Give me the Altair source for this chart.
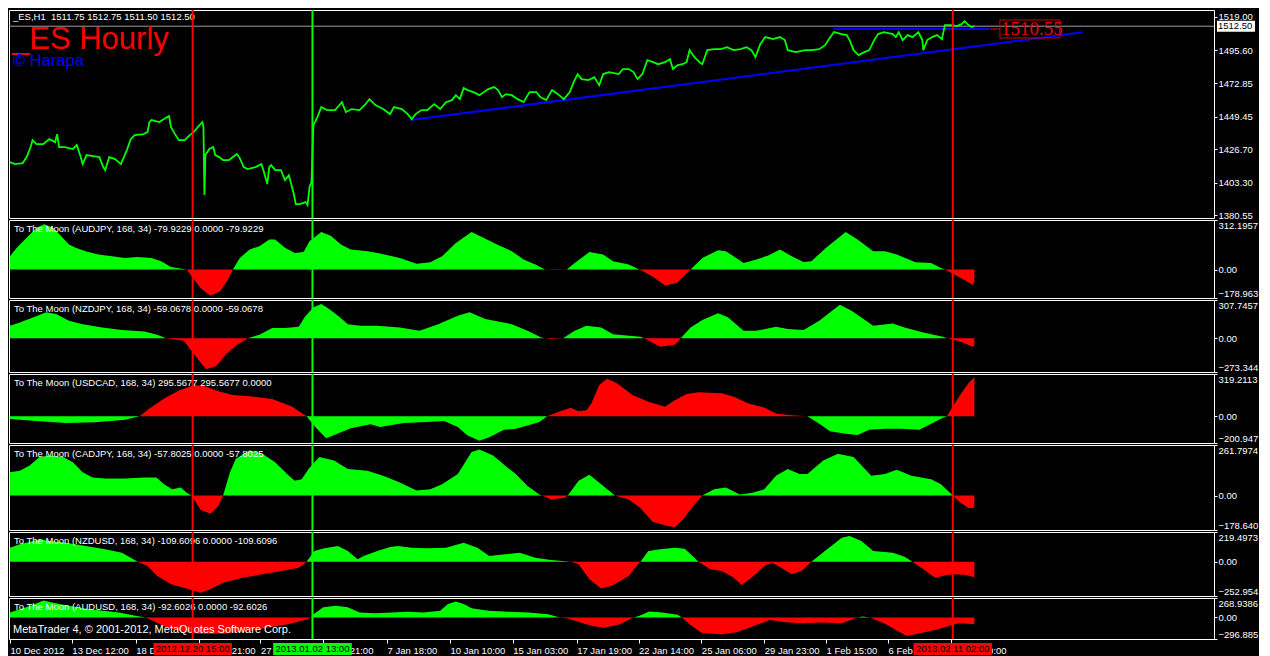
import json
import altair as alt
import pandas as pd

# ---------------- data ----------------
# _ES H1 close prices (bar index along the chart, price)
price_bars = [3,8,16,20,24,26,30,37,43,49,51,53,59,67,71,75,77,81,88,94,98,100,104,110,116,122,126,130,139,143,
              145,147,155,163,165,167,171,175,181,186,190,196,199,200,201,202,206,210,212,216,220,226,230,234,237,241,245,253,259,261,
              265,267,269,273,279,283,287,292,294,298,304,306,308,310,312,316,320,326,334,341,345,351,359,365,369,375,383,390,394,402,
              408,412,416,422,428,435,441,447,453,457,461,465,469,475,481,490,496,500,504,508,514,520,526,532,539,543,549,555,561,567,
              573,577,581,585,592,598,603,607,613,623,627,633,638,642,647,652,658,663,670,675,678,683,688,692,695,700,705,708,713,720,
              727,733,740,747,753,758,762,767,772,780,787,792,795,803,813,820,827,833,837,842,850,855,858,862,867,873,878,883,887,893,
              902,905,908,912,917,922,928,932,933,937,942,947,952,953,955,962,967,972,975,978,982,985]
price_close = [1417.7,1416.3,1417.0,1421.2,1428.2,1433.0,1430.3,1430.3,1433.7,1431.6,1437.2,1428.2,1428.2,1426.8,1429.6,1421.2,1416.3,1422.6,1421.9,1421.2,
               1414.2,1412.1,1421.2,1419.8,1416.3,1426.1,1433.7,1436.5,1437.2,1438.6,1445.6,1447.0,1445.6,1449.1,1449.8,1442.1,1437.2,1433.0,1433.0,1436.5,
               1438.6,1443.5,1445.6,1442.1,1394.7,1422.6,1426.8,1428.2,1422.6,1421.2,1419.1,1419.1,1421.2,1423.3,1420.5,1414.2,1412.8,1414.2,1416.3,1412.1,
               1402.4,1414.2,1415.6,1412.1,1412.1,1405.1,1408.6,1395.4,1388.4,1388.4,1389.8,1387.7,1400.3,1403.8,1443.5,1449.1,1456.1,1454.0,1454.0,1459.5,
               1452.6,1454.7,1454.0,1458.1,1461.6,1457.5,1454.7,1451.2,1456.1,1454.7,1451.2,1447.7,1451.2,1454.0,1454.0,1458.1,1454.7,1459.5,1460.9,1464.4,
               1461.6,1469.3,1467.9,1466.5,1464.4,1468.6,1470.0,1467.9,1463.0,1465.1,1464.4,1461.6,1459.5,1466.5,1466.5,1463.0,1460.9,1467.9,1465.1,1461.6,
               1466.5,1473.5,1479.1,1475.6,1474.9,1477.0,1471.4,1479.1,1480.5,1479.1,1482.6,1482.6,1480.5,1475.6,1479.1,1488.8,1487.4,1486.0,1487.4,1489.5,
               1482.6,1485.4,1486.0,1487.4,1495.8,1490.9,1487.4,1486.0,1495.8,1496.5,1496.5,1497.9,1495.8,1496.5,1497.9,1495.8,1490.9,1500.0,1504.9,1503.5,
               1504.9,1502.8,1495.8,1494.4,1495.8,1495.8,1496.5,1499.3,1503.5,1508.4,1507.0,1506.3,1502.8,1495.8,1492.3,1494.4,1495.8,1502.8,1507.0,1508.4,
               1507.0,1504.9,1508.4,1502.8,1506.3,1504.9,1508.4,1502.8,1495.8,1502.8,1504.9,1506.3,1503.5,1507.0,1513.2,1513.2,1512.5,1513.9,1516.0,1513.9,
               1511.9,1512.5]
price_ticks = [1380.55, 1403.30, 1426.70, 1449.45, 1472.85, 1495.60, 1519.00]
price_domain = [1378.7, 1523.8]
bid_price = 1512.50
header_text = "_ES,H1\u00a0 1511.75 1512.75 1511.50 1512.50"
title_text = "_ES Hourly"
author_text = "\u00a9 Harapa"

trend_bars = [411, 1095]
trend_prices = [1447.0, 1508.2]
level_bars = [842, 1000]
level_price = 1510.55
dash_bars = [1001, 1011]
level_label_bars = [1011, 1072]
level_label = "1510.55"

vline_bars = [189, 311, 963]
vline_colors = ["#ff0000", "#00ff00", "#ff0000"]
vline_labels = ["2012.12.20 15:00", "2013.01.02 13:00", "2013.02.11 02:00"]

tick_bars = [3, 66, 131, 195, 258, 322, 387, 451, 515, 580, 643, 707, 771, 834, 897, 961]
tick_labels = ["10 Dec 2012", "13 Dec 12:00", "18 Dec 05:00", "20 Dec 21:00", "27 Dec 06:00", "2 Jan 21:00",
               "7 Jan 18:00", "10 Jan 10:00", "15 Jan 03:00", "17 Jan 19:00", "22 Jan 14:00", "25 Jan 06:00",
               "29 Jan 23:00", "1 Feb 15:00", "6 Feb 07:00", "11 Feb 00:00"]

# indicator "To The Moon" panels
p1_bars = [3,10,20,30,38,47,55,63,70,80,93,107,120,133,147,157,167,180,183,187,197,207,217,225,230,237,247,257,267,273,
           283,293,302,308,320,330,340,350,367,380,400,417,431,443,457,473,485,499,514,526,538,548,560,570,578,593,607,617,633,644,
           657,670,682,696,708,724,732,750,763,775,787,799,811,819,834,854,866,882,894,906,925,941,951,955,965,977,983,985]
p1_vals = [84,137,200,263,285,263,211,158,137,116,95,84,73,80,73,53,16,4,0,-32,-116,-165,-137,-63,0,73,127,147,190,190,
           137,105,110,179,236,211,158,127,116,101,73,36,46,84,168,236,200,158,116,63,32,0,-3,0,42,110,95,53,32,0,
           -42,-101,-85,0,73,122,116,42,63,89,127,84,48,53,137,236,190,116,116,95,46,42,10,0,-32,-74,-95,-80]
p2_bars = [3,13,27,40,50,63,77,97,117,140,153,162,180,188,197,203,213,223,233,245,257,270,283,297,303,312,320,328,337,347,
           360,377,400,420,439,459,471,487,514,530,544,548,554,566,578,590,605,617,645,649,665,680,686,696,708,724,734,750,763,783,
           795,811,827,848,860,882,902,914,933,953,957,961,973,983,985]
p2_vals = [100,127,168,208,194,140,113,86,65,54,27,0,-22,-103,-197,-251,-224,-130,-62,0,27,81,81,92,168,249,275,235,181,113,
           100,100,86,59,113,181,208,154,113,59,6,0,-8,0,59,100,86,32,11,0,-70,-54,0,86,146,200,168,59,59,92,
           73,65,140,270,221,100,119,86,46,11,0,-8,-35,-70,-59]
p3_bars = [3,30,60,90,120,135,145,160,175,190,200,215,230,250,270,290,305,315,325,335,350,370,380,404,427,445,459,469,481,491,
           506,518,530,542,550,562,574,582,590,595,603,611,621,637,653,670,680,692,704,728,740,755,771,783,799,815,827,838,854,866,
           878,894,910,929,941,953,957,965,973,979,984,985]
p3_vals = [-20,-35,-50,-45,-25,0,60,135,195,235,230,190,160,150,130,75,0,-90,-165,-135,-90,-60,-81,-50,-43,-35,-81,-145,-184,-158,
           -102,-94,-69,-43,0,34,64,38,46,97,237,283,250,161,110,72,122,168,181,174,148,97,67,21,8,0,-56,-112,-132,-140,
           -102,-94,-94,-102,-56,-10,0,97,187,250,288,296]
p4_bars = [3,13,23,33,43,57,67,77,87,100,120,140,152,160,168,177,183,188,197,207,215,220,227,233,247,260,273,287,293,300,
           307,318,333,347,367,383,400,417,431,443,459,473,481,495,507,518,530,542,545,554,568,571,582,593,605,619,633,645,657,672,
           680,688,700,708,720,732,746,759,771,783,795,807,815,831,846,862,880,894,906,921,941,951,963,971,979,984,985]
p4_vals = [120,129,155,199,208,199,172,120,93,88,88,93,93,58,32,41,14,0,-74,-95,-56,0,120,190,234,216,172,102,76,84,
           137,199,181,137,129,102,67,26,32,58,111,225,239,208,155,111,50,5,0,-21,-12,0,76,108,58,0,-21,-65,-135,-158,
           -165,-126,-47,0,32,41,5,14,32,102,137,111,111,181,216,199,102,111,134,102,84,58,0,-38,-65,-65,-58]
p5_bars = [3,13,27,33,43,60,80,100,117,133,143,153,167,180,197,207,220,240,260,280,297,305,313,323,337,347,357,363,377,390,
           398,412,427,447,465,479,491,507,522,538,554,574,582,593,605,617,633,641,645,653,665,680,690,698,704,716,728,740,748,759,
           771,779,787,799,809,819,835,850,858,870,882,902,914,922,933,945,957,965,977,984,985]
p5_vals = [103,129,153,166,153,140,116,92,67,0,-32,-106,-167,-192,-229,-204,-155,-118,-93,-69,-44,0,79,99,116,79,18,42,79,109,
           116,103,99,103,140,103,42,55,67,30,13,0,-19,-130,-197,-174,-106,-32,0,79,92,103,96,42,0,-56,-69,-118,-172,-113,
           -32,-7,-39,-93,-69,0,92,177,190,153,79,67,37,0,-56,-118,-98,-93,-98,-113,-110]
p6_bars = [3,24,37,53,82,114,131,141,147,163,180,196,220,245,265,286,306,310,312,322,335,347,359,375,392,408,424,441,449,457,
           465,473,490,510,531,551,563,571,584,596,608,624,638,644,654,667,683,687,695,707,728,744,765,777,793,810,830,850,866,871,
           879,895,916,932,948,969,985]
p6_vals = [70,163,233,187,117,70,23,0,-33,-140,-196,-224,-224,-187,-140,-94,-24,0,46,140,163,140,70,60,70,79,70,93,187,219,
           187,126,93,79,70,46,0,-14,-70,-117,-140,-94,0,23,84,70,37,0,-94,-210,-234,-201,-94,-33,-66,-80,-70,-80,0,14,
           0,-94,-257,-210,-164,-80,-93]

panel_titles = [
    "To The Moon (AUDJPY, 168, 34) -79.9229 0.0000 -79.9229",
    "To The Moon (NZDJPY, 168, 34) -59.0678 0.0000 -59.0678",
    "To The Moon (USDCAD, 168, 34) 295.5677 295.5677 0.0000",
    "To The Moon (CADJPY, 168, 34) -57.8025 0.0000 -57.8025",
    "To The Moon (NZDUSD, 168, 34) -109.6096 0.0000 -109.6096",
    "To The Moon (AUDUSD, 168, 34) -92.6026 0.0000 -92.6026",
]
panel_ranges = [
    (-178.963, 312.1957),
    (-273.3449, 307.7457),
    (-200.9479, 319.2113),
    (-178.6400, 261.7974),
    (-252.9540, 219.4973),
    (-296.8850, 268.9386),
]
footer_text = "MetaTrader 4, \u00a9 2001-2012, MetaQuotes Software Corp."

# ---------------- styling ----------------
W = 1205
FONT = "Liberation Sans"
GREEN, RED, BLUE = "#00ff00", "#ff0000", "#0000ff"
heights = [208, 78, 72, 69, 85, 64, 41]

xscale = alt.Scale(domain=[2, 1229], nice=False, zero=False)

time_axis = alt.Axis(
    orient="bottom", values=tick_bars, title=None,
    labelExpr=f"{json.dumps(tick_labels)}[indexof({json.dumps(tick_bars)}, datum.value)]",
    labelAlign="left", labelBaseline="top", labelPadding=2, tickSize=4,
    labelOverlap=False, labelFlush=False, labelBound=False,
)


def xenc(field, axis=None):
    return alt.X(f"{field}:Q", scale=xscale, axis=axis)


vline_df = pd.DataFrame({"bar": vline_bars, "color": vline_colors, "text": vline_labels})


def vrules(axis=None):
    return alt.Chart(vline_df).mark_rule(strokeWidth=2).encode(
        x=xenc("bar", axis), color=alt.Color("color:N", scale=None)
    )


def text_layer(txt, x, y, size, color, baseline="middle", font=FONT):
    return alt.Chart(pd.DataFrame({"t": [txt]})).mark_text(
        align="left", baseline=baseline, font=font, fontSize=size, color=color
    ).encode(x=alt.value(x), y=alt.value(y), text="t:N")


# ---------------- main price panel ----------------
H0 = heights[0]
main_axis = alt.Axis(orient="right", values=price_ticks, format=".2f", title=None, tickSize=3, labelPadding=1)
ysc0 = alt.Scale(domain=price_domain, nice=False, zero=False)


def y0(field="price"):
    return alt.Y(f"{field}:Q", scale=ysc0, axis=main_axis)


price_df = pd.DataFrame({"bar": price_bars, "price": price_close})
bid_df = pd.DataFrame({"price": [bid_price], "label": [f"{bid_price:.2f}"]})
trend_df = pd.DataFrame({"bar": trend_bars, "price": trend_prices})
level_df = pd.DataFrame({"bar": [level_bars[0]], "bar2": [level_bars[1]], "price": [level_price]})
dash_df = pd.DataFrame({"bar": [dash_bars[0]], "bar2": [dash_bars[1]], "price": [level_price]})
lab_df = pd.DataFrame({"bar": [level_label_bars[0]], "bar2": [level_label_bars[1]],
                       "price": [level_price], "text": [level_label]})

main = alt.layer(
    alt.Chart(bid_df).mark_rule(color="#a0a0a0", strokeWidth=1).encode(y=y0()),
    alt.Chart(trend_df).mark_line(color=BLUE, strokeWidth=2, clip=True).encode(x=xenc("bar"), y=y0()),
    alt.Chart(level_df).mark_rule(color=BLUE, strokeWidth=2).encode(x=xenc("bar"), x2="bar2:Q", y=y0()),
    alt.Chart(dash_df).mark_rule(color=RED, strokeWidth=1).encode(x=xenc("bar"), x2="bar2:Q", y=y0()),
    alt.Chart(lab_df).mark_rect(fillOpacity=0, stroke="#d00000", strokeWidth=1, height=18).encode(
        x=xenc("bar"), x2="bar2:Q", y=y0()),
    alt.Chart(lab_df).mark_text(align="left", baseline="middle", font="Liberation Serif", fontSize=19,
                                color="#ee0000", dx=1).encode(x=xenc("bar"), y=y0(), text="text:N"),
    alt.Chart(price_df).mark_line(color=GREEN, strokeWidth=1.8, clip=True).encode(x=xenc("bar"), y=y0()),
    text_layer(header_text, 4, 7, 9.5, "white"),
    text_layer(title_text, 3, 39, 31, RED, baseline="alphabetic"),
    text_layer(author_text, 4, 56, 16.5, BLUE, baseline="alphabetic"),
    vrules(),
    alt.Chart(bid_df).mark_rect(color="white", height=11).encode(
        x=alt.value(W + 3), x2=alt.value(W + 41), y=y0()),
    alt.Chart(bid_df).mark_text(align="left", baseline="middle", font=FONT, fontSize=9.5, color="black").encode(
        x=alt.value(W + 4), y=y0(), text="label:N"),
).properties(width=W, height=H0)


# ---------------- indicator panels ----------------
def panel(i, bars, vals, pos_color, neg_color, extra=None, bottom=False):
    lo, hi = panel_ranges[i]
    h = heights[i + 1]
    df = pd.DataFrame({"bar": bars, "v": vals})
    ysc = alt.Scale(domain=[lo, hi], nice=False, zero=False)
    yaxis = alt.Axis(
        orient="right", values=[lo, 0, hi], title=None, tickSize=3, labelPadding=1, labelFlush=True,
        labelExpr="datum.value == 0 ? '0.00' : substring(format(datum.value, '.4f'), 0, 8)",
    )
    xa = time_axis if bottom else None
    layers = [
        alt.Chart(df).transform_calculate(p="max(datum.v, 0)").mark_area(color=pos_color).encode(
            x=xenc("bar", xa), y=alt.Y("p:Q", scale=ysc, axis=yaxis), y2=alt.datum(0)),
        alt.Chart(df).transform_calculate(n="min(datum.v, 0)").mark_area(color=neg_color).encode(
            x=xenc("bar", xa), y=alt.Y("n:Q", scale=ysc, axis=yaxis), y2=alt.datum(0)),
        text_layer(panel_titles[i], 5, 9, 9.5, "white"),
    ]
    if extra is not None:
        layers += extra
    layers.append(vrules(xa))
    if bottom:
        layers.append(
            alt.Chart(vline_df).transform_calculate(b1="datum.bar - 40", b2="datum.bar + 40").mark_rect().encode(
                x=xenc("b1", xa), x2="b2:Q", y=alt.value(h + 4), y2=alt.value(h + 16),
                color=alt.Color("color:N", scale=None)))
        layers.append(
            alt.Chart(vline_df).mark_text(align="center", baseline="middle", font=FONT, fontSize=9.5,
                                          color="black").encode(
                x=xenc("bar", xa), y=alt.value(h + 10), text="text:N"))
    return alt.layer(*layers).properties(width=W, height=h)


p1 = panel(0, p1_bars, p1_vals, GREEN, RED)
p2 = panel(1, p2_bars, p2_vals, GREEN, RED)
p3 = panel(2, p3_bars, p3_vals, RED, GREEN)
p4 = panel(3, p4_bars, p4_vals, GREEN, RED)
p5 = panel(4, p5_bars, p5_vals, GREEN, RED)
p6 = panel(5, p6_bars, p6_vals, GREEN, RED,
           extra=[text_layer(footer_text, 4, 32, 11, "white")], bottom=True)

chart = alt.vconcat(main, p1, p2, p3, p4, p5, p6, spacing=2, bounds="flush").properties(
    background="black", padding=0
).configure_view(
    stroke="white", strokeWidth=1
).configure_axis(
    grid=False, domain=False, labelColor="white", tickColor="white",
    labelFont=FONT, labelFontSize=9.5,
)

chart.save("out.html", embed_options={"renderer": "svg", "actions": False})
